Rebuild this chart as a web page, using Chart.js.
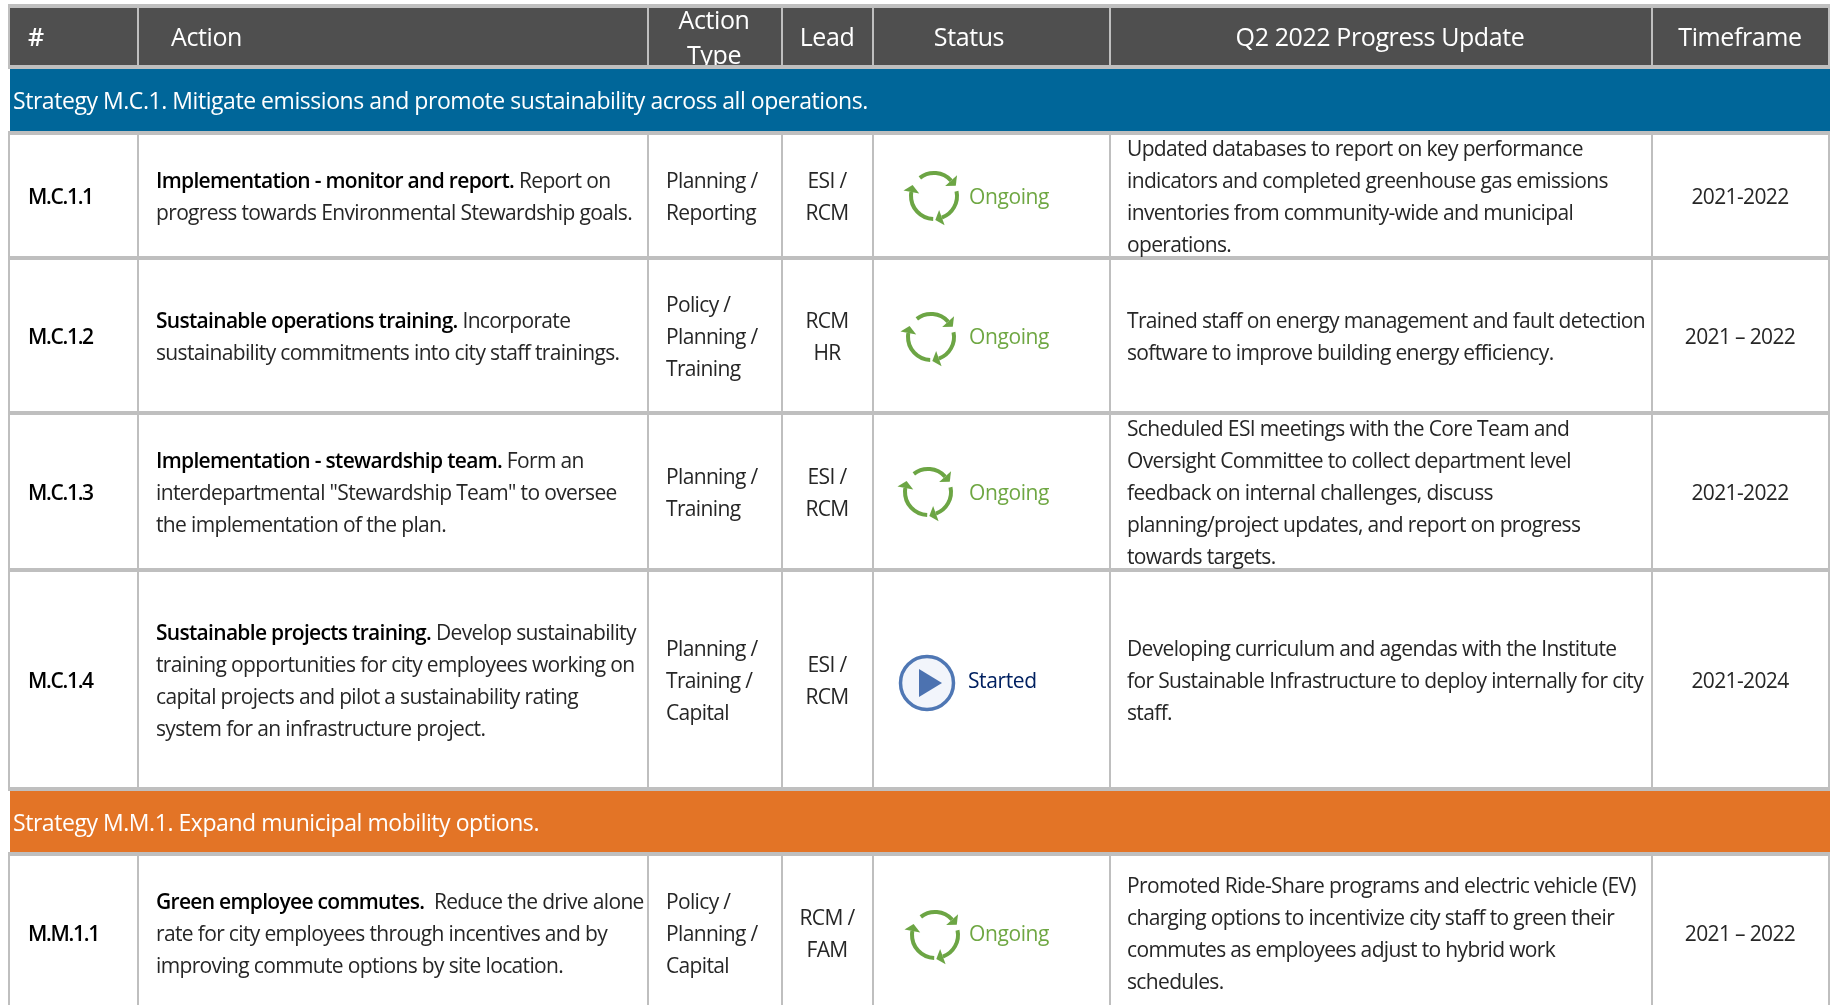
<!DOCTYPE html>
<html>
<head>
<meta charset="utf-8">
<title>Q2 2022 Progress Update</title>
<script src="https://cdn.jsdelivr.net/npm/chart.js@4"></script>
<style>
  html, body { margin: 0; padding: 0; background: #fff; overflow: hidden; }
  canvas { display: block; }
</style>
</head>
<body>
<canvas id="chart" width="1830" height="1005"></canvas>
<script>
// table content
const headers = ['#', 'Action', ['Action', 'Type'], 'Lead', 'Status', 'Q2 2022 Progress Update', 'Timeframe'];
const strategies = [
  'Strategy M.C.1. Mitigate emissions and promote sustainability across all operations.',
  'Strategy M.M.1. Expand municipal mobility options.'
];
const ids = ['M.C.1.1', 'M.C.1.2', 'M.C.1.3', 'M.C.1.4', 'M.M.1.1'];
const actionTitles = [
  'Implementation - monitor and report.',
  'Sustainable operations training.',
  'Implementation - stewardship team.',
  'Sustainable projects training.',
  'Green employee commutes.'
];
const actionLines = [
  [' Report on', 'progress towards Environmental Stewardship goals.'],
  [' Incorporate', 'sustainability commitments into city staff trainings.'],
  [' Form an', 'interdepartmental "Stewardship Team" to oversee', 'the implementation of the plan.'],
  [' Develop sustainability', 'training opportunities for city employees working on', 'capital projects and pilot a sustainability rating', 'system for an infrastructure project.'],
  ['  Reduce the drive alone', 'rate for city employees through incentives and by', 'improving commute options by site location.']
];
const actionTypes = [
  ['Planning /', 'Reporting'],
  ['Policy /', 'Planning /', 'Training'],
  ['Planning /', 'Training'],
  ['Planning /', 'Training /', 'Capital'],
  ['Policy /', 'Planning /', 'Capital']
];
const leads = [
  ['ESI /', 'RCM'],
  ['RCM', 'HR'],
  ['ESI /', 'RCM'],
  ['ESI /', 'RCM'],
  ['RCM /', 'FAM']
];
const statuses = ['Ongoing', 'Ongoing', 'Ongoing', 'Started', 'Ongoing'];
const progress = [
  ['Updated databases to report on key performance', 'indicators and completed greenhouse gas emissions', 'inventories from community-wide and municipal', 'operations.'],
  ['Trained staff on energy management and fault detection', 'software to improve building energy efficiency.'],
  ['Scheduled ESI meetings with the Core Team and', 'Oversight Committee to collect department level', 'feedback on internal challenges, discuss', 'planning/project updates, and report on progress', 'towards targets.'],
  ['Developing curriculum and agendas with the Institute', 'for Sustainable Infrastructure to deploy internally for city', 'staff.'],
  ['Promoted Ride-Share programs and electric vehicle (EV)', 'charging options to incentivize city staff to green their', 'commutes as employees adjust to hybrid work', 'schedules.']
];
const timeframes = ['2021-2022', '2021 – 2022', '2021-2022', '2021-2024', '2021 – 2022'];

// layout, in page pixels
const colEdges = [9, 138, 648, 782, 873, 1110, 1652, 1829];
const headerTop = 8, headerBottom = 65;
const bandEdges = [[69, 131], [791, 852]];
const rowEdges = [[135, 256], [260, 411], [415, 568], [572, 787], [856, 1009]];
const ruleYs = [6, 67, 133, 258, 413, 570, 789, 854];
const iconXs = [934, 931, 928, 927, 935];
const iconYs = [196, 337, 492, 683, 935];
const TEXT_SHIFT = 3; // font sits a little high when centred on the row

const GREY = '#bfbfbf';
const FONT = '"Open Sans", "Noto Sans", sans-serif';
const statusColors = { Ongoing: '#6fa743', Started: '#002060' };

function ongoingIcon() {
  const c = document.createElement('canvas');
  c.width = 64; c.height = 64;
  const g = c.getContext('2d');
  const r = 23;
  g.strokeStyle = g.fillStyle = '#6ca544';
  g.lineWidth = 4;
  g.filter = 'blur(0.5px)';
  [[-128, -42], [-12, 70], [92, 190]].forEach(function (a) {
    const s = a[0] * Math.PI / 180, e = a[1] * Math.PI / 180;
    g.beginPath();
    g.arc(32, 32, r, s, e);
    g.stroke();
    // arrow head pointing along the clockwise direction
    const hx = 32 + r * Math.cos(e), hy = 32 + r * Math.sin(e);
    const t = e + Math.PI / 2;
    g.beginPath();
    g.moveTo(hx + 7 * Math.cos(t), hy + 7 * Math.sin(t));
    g.lineTo(hx + 8 * Math.cos(e), hy + 8 * Math.sin(e));
    g.lineTo(hx - 8 * Math.cos(e), hy - 8 * Math.sin(e));
    g.closePath();
    g.fill();
  });
  return c;
}

function startedIcon() {
  const c = document.createElement('canvas');
  c.width = 64; c.height = 64;
  const g = c.getContext('2d');
  g.filter = 'blur(0.5px)';
  g.beginPath();
  g.arc(32, 32, 26.5, 0, Math.PI * 2);
  g.fillStyle = '#f2f5fb';
  g.fill();
  g.lineWidth = 3.5;
  g.strokeStyle = '#4f77b4';
  g.stroke();
  g.beginPath();
  g.moveTo(24, 18);
  g.lineTo(47, 32);
  g.lineTo(24, 46);
  g.closePath();
  g.fillStyle = '#4c72b0';
  g.fill();
  return c;
}

function center(edges) {
  return (edges[0] + edges[1]) / 2;
}

const icons = { Ongoing: ongoingIcon(), Started: startedIcon() };

const datasets = [];
// fills: header and the two strategy bands
function band(top, bottom, left, right, color) {
  datasets.push({
    data: [{ x: left, y: top }, { x: right, y: top }],
    showLine: true, borderWidth: 0, pointRadius: 0,
    backgroundColor: color, fill: { value: bottom }, order: 4
  });
}
band(headerTop, headerBottom, 10, 1830, '#4f4f4f');
band(bandEdges[0][0], bandEdges[0][1], 10, 1830, '#006699');
band(bandEdges[1][0], bandEdges[1][1], 10, 1830, '#e37426');

// table rules
function rule(x1, y1, x2, y2, width, color) {
  datasets.push({
    data: [{ x: x1, y: y1 }, { x: x2, y: y2 }],
    showLine: true, borderWidth: width, borderColor: color, pointRadius: 0, fill: false, order: 3
  });
}
ruleYs.forEach(function (y) { rule(8, y, 1830, y, 4, GREY); });
colEdges.forEach(function (x) {
  rule(x, headerTop, x, headerBottom, 2, GREY);
  rule(x, 135, x, 787, 2, GREY);
  rule(x, 856, x, 1005, 2, GREY);
});
// the Lead/Status rule is darker beside the M.C.1.4 row
rule(873, 572, 873, 787, 2, '#a6a6a6');

// status icons
datasets.push({
  data: statuses.map(function (s, i) { return { x: iconXs[i], y: iconYs[i] }; }),
  pointStyle: statuses.map(function (s) { return icons[s]; }),
  showLine: false, order: 1
});

function lines(ctx, list, x, midY, align) {
  ctx.textAlign = align;
  list.forEach(function (t, i) {
    ctx.fillText(t, x, midY + (i - (list.length - 1) / 2) * 32);
  });
}

const tableText = {
  id: 'tableText',
  afterDatasetsDraw: function (chart) {
    const ctx = chart.ctx;
    const X = chart.scales.x, Y = chart.scales.y;
    const px = function (v) { return X.getPixelForValue(v); };
    const py = function (v) { return Y.getPixelForValue(v); };
    ctx.save();
    ctx.textBaseline = 'middle';

    // header
    const headMid = py(38.5);
    const headXs = [28, 171, 714, 827, 969, 1380, 1740];
    const headAlign = ['left', 'left', 'center', 'center', 'center', 'center', 'center'];
    ctx.save();
    ctx.beginPath();
    ctx.rect(px(9), py(headerTop), px(1830) - px(9), py(headerBottom) - py(headerTop));
    ctx.clip();
    ctx.fillStyle = '#ffffff';
    ctx.letterSpacing = '-0.4px';
    headers.forEach(function (h, i) {
      ctx.font = (i === 0 ? '600 ' : '') + '25px ' + FONT;
      ctx.textAlign = headAlign[i];
      if (Array.isArray(h)) {
        ctx.fillText(h[0], px(headXs[i]), py(21.5));
        ctx.fillText(h[1], px(headXs[i]), py(56.5));
      } else {
        ctx.fillText(h, px(headXs[i]), headMid);
      }
    });
    ctx.restore();

    // strategy bands
    ctx.fillStyle = '#ffffff';
    ctx.font = '23px ' + FONT;
    ctx.letterSpacing = '-0.45px';
    ctx.textAlign = 'left';
    strategies.forEach(function (s, i) {
      ctx.fillText(s, px(13), py(center(bandEdges[i]) + 2.5));
    });

    // body rows
    ids.forEach(function (id, i) {
      const mid = py(center(rowEdges[i]) + TEXT_SHIFT);
      ctx.letterSpacing = '-1.3px';
      ctx.fillStyle = '#000000';
      ctx.font = '600 21px ' + FONT;
      ctx.textAlign = 'left';
      ctx.fillText(id, px(28), mid);

      // action cell: bold lead-in then plain text on the first line
      const action = actionLines[i];
      const firstY = mid - (action.length - 1) / 2 * 32;
      ctx.letterSpacing = '-0.7px';
      ctx.fillText(actionTitles[i], px(156), firstY);
      const w = ctx.measureText(actionTitles[i]).width;
      ctx.font = '21px ' + FONT;
      ctx.fillStyle = '#262626';
      ctx.letterSpacing = '-0.65px';
      ctx.fillText(action[0], px(156) + w, firstY);
      action.forEach(function (t, k) {
        if (k > 0) ctx.fillText(t, px(156), firstY + k * 32);
      });

      lines(ctx, actionTypes[i], px(666), mid, 'left');
      lines(ctx, leads[i], px(827), mid, 'center');
      lines(ctx, progress[i], px(1127), mid, 'left');
      lines(ctx, [timeframes[i]], px(1740), mid, 'center');

      ctx.letterSpacing = '-0.4px';
      ctx.fillStyle = statusColors[statuses[i]];
      ctx.textAlign = 'left';
      ctx.fillText(statuses[i], px(statuses[i] === 'Started' ? 968 : 969), mid);
    });
    ctx.restore();
  }
};

new Chart(document.getElementById('chart'), {
  type: 'scatter',
  data: { datasets: datasets },
  plugins: [tableText],
  options: {
    responsive: false,
    animation: false,
    layout: { padding: 0, autoPadding: false },
    plugins: { legend: { display: false }, tooltip: { enabled: false }, title: { display: false } },
    scales: {
      x: { type: 'linear', min: 0, max: 1830, display: false },
      y: { type: 'linear', min: 0, max: 1005, reverse: true, display: false }
    }
  }
});
</script>
</body>
</html>
